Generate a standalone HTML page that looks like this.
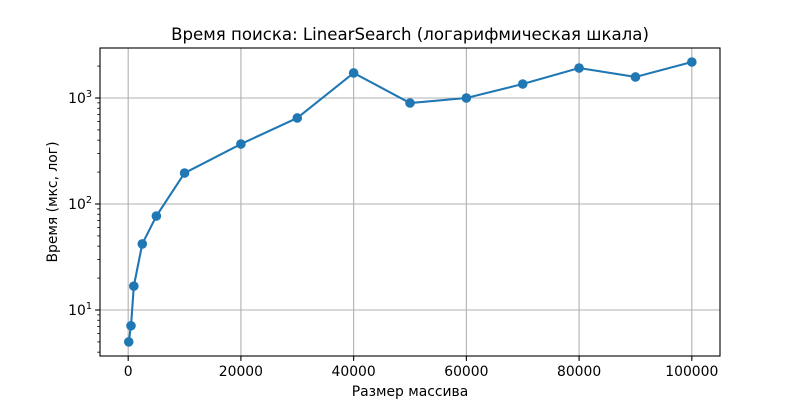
<!DOCTYPE html>
<html><head><meta charset="utf-8"><style>body{margin:0;background:#fff}svg{font-family:"DejaVu Sans","Liberation Sans",sans-serif}</style></head>
<body>
<svg id="c" width="800" height="400" xmlns="http://www.w3.org/2000/svg"></svg>
<script>
const sizes=[100,500,1000,2500,5000,10000,20000,30000,40000,50000,60000,70000,80000,90000,100000];
const times=[5.0,7.1,16.8,42,77,196,368,648,1722,897,1000,1355,1918,1579,2186];
const xTicks=[0,20000,40000,60000,80000,100000];
const yTicks=[1,2,3];
const L=100,R=720,T=48,B=356;
const xs=v=>L+(v+5000)/110000*(R-L);
const ys=v=>B-(Math.log10(v)-0.566)*106;
const svg=document.getElementById('c');
const NS='http://www.w3.org/2000/svg';
function mk(t,a,p){const e=document.createElementNS(NS,t);for(const k in a)e.setAttribute(k,a[k]);(p||svg).appendChild(e);return e;}
const grid=mk('g',{});


xTicks.forEach(v=>{const x=xs(v);
mk('line',{x1:x,x2:x,y1:T,y2:B,stroke:'#b0b0b0','stroke-width':1.1},grid);
mk('line',{x1:x,x2:x,y1:B,y2:B+4.9,stroke:'#000','stroke-width':1.1});
const t=mk('text',{x:x,y:B+20,'font-size':13.9,'text-anchor':'middle'});t.textContent=v;

});
yTicks.forEach(p=>{const y=ys(Math.pow(10,p));
mk('line',{x1:L,x2:R,y1:y,y2:y,stroke:'#b0b0b0','stroke-width':1.1},grid);
mk('line',{x1:L-4.9,x2:L,y1:y,y2:y,stroke:'#000','stroke-width':1.1});
const t=mk('text',{x:L-8,y:y+5,'font-size':13.9,'text-anchor':'end'});
t.innerHTML='10<tspan dy="-6" font-size="9.7">'+p+'</tspan>';

});
for(let p=0;p<4;p++)for(let m=2;m<10;m++){const v=m*Math.pow(10,p);const y=ys(v);if(y<T||y>B)continue;
mk('line',{x1:L-2.8,x2:L,y1:y,y2:y,stroke:'#000','stroke-width':0.8});}
const pts=sizes.map((s,i)=>xs(s)+','+ys(times[i])).join(' ');
const line=mk('polyline',{points:pts,fill:'none',stroke:'#1f77b4','stroke-width':2.1});


sizes.forEach((s,i)=>{const c=mk('circle',{cx:xs(s),cy:ys(times[i]),r:4.8,fill:'#1f77b4'});

});
const fr=mk('rect',{x:L,y:T,width:R-L,height:B-T,fill:'none',stroke:'#000','stroke-width':1.1});


const ti=mk('text',{x:410,y:40,'font-size':16.6,'text-anchor':'middle'});ti.textContent='Время поиска: LinearSearch (логарифмическая шкала)';


const xl=mk('text',{x:410,y:396,'font-size':13.9,'text-anchor':'middle'});xl.textContent='Размер массива';


const yl=mk('text',{x:57,y:202,'font-size':13.9,'text-anchor':'middle',transform:'rotate(-90 57 202)'});yl.textContent='Время (мкс, лог)';


</script>
</body></html>
